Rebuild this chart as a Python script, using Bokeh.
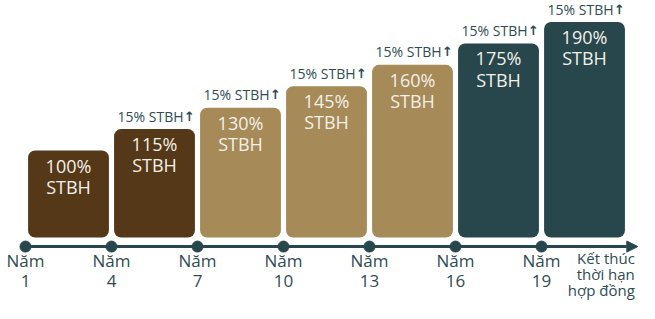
from bokeh.plotting import figure
from bokeh.models import Range1d, ColumnDataSource, Arrow, NormalHead
from bokeh.core.properties import value
from bokeh.embed import file_html
from bokeh.resources import INLINE

# ---- data ----
bar_values = [100, 115, 130, 145, 160, 175, 190]
bar_labels = ["100%\nSTBH", "115%\nSTBH", "130%\nSTBH", "145%\nSTBH",
              "160%\nSTBH", "175%\nSTBH", "190%\nSTBH"]
bar_groups = ["brown", "brown", "tan", "tan", "tan", "teal", "teal"]
increase_labels = ["", "15% STBH", "15% STBH", "15% STBH",
                   "15% STBH", "15% STBH", "15% STBH"]
increase_marks = ["", "↑", "↑", "↑", "↑", "↑", "↑"]
milestone_labels = ["Năm\n1", "Năm\n4", "Năm\n7", "Năm\n10",
                    "Năm\n13", "Năm\n16", "Năm\n19"]
end_label = "Kết thúc\nthời hạn\nhợp đồng"

# ---- style ----
PALETTE = {"brown": "#553818", "tan": "#A68A58", "teal": "#27474C"}
LINE_COLOR = "#27474C"
TEXT_COLOR = "#2F4C52"
BAR_TEXT = "#F4F0E8"
FONT = value("Open Sans")
BASE = 39.0       # bar baseline (value units)
AXIS_Y = 32.7     # timeline position (value units)
X_END = 6.62

xs = list(range(len(bar_values)))
src = ColumnDataSource(dict(
    x=xs,
    top=bar_values,
    color=[PALETTE[g] for g in bar_groups],
    label=bar_labels,
    inc=increase_labels,
    mark=increase_marks,
    dot_x=[i - 0.5 for i in xs],
    dot_y=[AXIS_Y] * len(xs),
    ms=milestone_labels,
))

p = figure(width=639, height=303, output_backend="svg", toolbar_location=None,
           x_range=Range1d(-0.7907, 6.6395), y_range=Range1d(-7.2, 205.1),
           min_border=0, outline_line_color=None)
p.axis.visible = False
p.grid.visible = False
p.background_fill_color = "white"
p.border_fill_color = "white"

p.vbar(x="x", top="top", bottom=BASE, width=0.94, color="color",
       line_color=None, border_radius=7, source=src)

p.text(x="x", y="top", text="label", source=src, text_align="center",
       text_baseline="top", y_offset=3, text_font=FONT, text_font_size="18px",
       text_color=BAR_TEXT, text_line_height=0.88)

p.text(x="x", y="top", text="inc", source=src, text_align="right",
       text_baseline="middle", x_offset=29, y_offset=-13, text_font=FONT,
       text_font_size="14px", text_color=TEXT_COLOR)
p.text(x="x", y="top", text="mark", source=src, text_align="center",
       text_baseline="middle", x_offset=35, y_offset=-13, text_font=value("DejaVu Sans"),
       text_font_size="13px", text_font_style="bold", text_color=TEXT_COLOR)

# timeline
arrow = Arrow(x_start=-0.5, y_start=AXIS_Y, x_end=X_END, y_end=AXIS_Y,
              line_color=LINE_COLOR, line_width=3,
              end=NormalHead(size=11, fill_color=LINE_COLOR, line_color=LINE_COLOR))
p.add_layout(arrow)
p.scatter(x="dot_x", y="dot_y", size=11, color=LINE_COLOR, source=src)

p.text(x="dot_x", y="dot_y", text="ms", source=src, text_align="center",
       text_baseline="top", y_offset=2, text_font=FONT, text_font_size="17px",
       text_color=TEXT_COLOR, text_line_height=0.88)

p.text(x=[X_END], y=[AXIS_Y], text=[end_label], text_align="right",
       text_baseline="top", x_offset=-3, y_offset=1, text_font=FONT,
       text_font_size="15px", text_color=TEXT_COLOR, text_line_height=0.8)

open("out.html", "w").write(file_html(p, INLINE))
